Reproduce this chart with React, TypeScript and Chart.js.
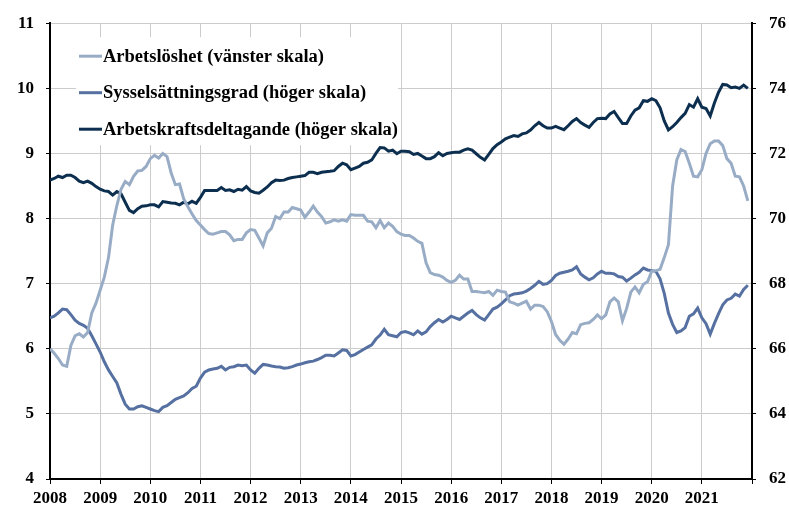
import React, { useEffect, useRef } from "react";
import { Chart, registerables } from "chart.js";

Chart.register(...registerables);

const startYear = 2008;
const endYear = 2022;

const seriesNames = [
  "Arbetslöshet (vänster skala)",
  "Sysselsättningsgrad (höger skala)",
  "Arbetskraftsdeltagande (höger skala)",
];

// Monthly values, Jan 2008 – Dec 2021
const arbetsloshet = [
  6.0, 5.93, 5.85, 5.75, 5.73, 6.05, 6.2, 6.23, 6.18, 6.25, 6.55, 6.7,
  6.9, 7.1, 7.4, 7.9, 8.2, 8.45, 8.57, 8.52, 8.65, 8.73, 8.74, 8.8,
  8.92, 8.97, 8.93, 9.0, 8.95, 8.7, 8.52, 8.53, 8.3, 8.18, 8.07, 7.97,
  7.9, 7.83, 7.77, 7.76, 7.78, 7.8, 7.8, 7.75, 7.66, 7.68, 7.68, 7.78,
  7.83, 7.82, 7.7, 7.58, 7.78, 7.85, 8.03, 8.0, 8.1, 8.1, 8.17, 8.15,
  8.13, 8.02, 8.1, 8.19, 8.1, 8.03, 7.93, 7.95, 7.98, 7.96, 7.98, 7.96,
  8.06, 8.05, 8.05, 8.05, 7.96, 7.95, 7.86, 7.97, 7.86, 7.93, 7.88, 7.8,
  7.76, 7.74, 7.74, 7.7, 7.65, 7.62, 7.32, 7.17, 7.14, 7.13, 7.1, 7.05,
  7.02, 7.05, 7.13, 7.07, 7.07, 6.88, 6.88, 6.87, 6.86, 6.88, 6.82, 6.9,
  6.88, 6.87, 6.72, 6.7, 6.67, 6.7, 6.73, 6.61, 6.67, 6.67, 6.65, 6.57,
  6.42, 6.22, 6.13, 6.07, 6.15, 6.25, 6.23, 6.37, 6.39, 6.4, 6.45, 6.52,
  6.46, 6.52, 6.72, 6.78, 6.72, 6.43, 6.62, 6.87, 6.95, 6.86, 6.99, 7.03,
  7.19, 7.2, 7.22, 7.4, 7.6, 8.5, 8.9, 9.06, 9.03, 8.85, 8.65, 8.64,
  8.75, 9.0, 9.15, 9.19, 9.19, 9.12, 8.92, 8.85, 8.65, 8.64, 8.5, 8.27,
];

const sysselsattningsgrad = [
  66.95, 67.0, 67.1, 67.22, 67.2, 67.05, 66.88, 66.78, 66.72, 66.63, 66.4, 66.15,
  65.9, 65.6, 65.35, 65.15, 64.95, 64.6, 64.3, 64.15, 64.15, 64.22, 64.25, 64.2,
  64.15, 64.1, 64.07, 64.2, 64.25, 64.35, 64.45, 64.5, 64.55, 64.65, 64.78, 64.85,
  65.1, 65.28, 65.35, 65.38, 65.4, 65.46, 65.35, 65.43, 65.45, 65.5, 65.48, 65.5,
  65.35, 65.25, 65.4, 65.52, 65.5, 65.47, 65.45, 65.44, 65.4, 65.42, 65.45, 65.5,
  65.53, 65.57, 65.6, 65.62, 65.67, 65.73, 65.8, 65.8, 65.78, 65.87, 65.97, 65.95,
  65.78, 65.82, 65.9, 65.98, 66.05, 66.12, 66.3, 66.42, 66.6, 66.43, 66.4, 66.37,
  66.5, 66.53, 66.49, 66.43, 66.55, 66.45, 66.52, 66.68, 66.8, 66.9, 66.82, 66.9,
  67.0, 66.95, 66.9, 67.0, 67.1, 67.18, 67.05, 66.95, 66.88, 67.05, 67.22, 67.28,
  67.38, 67.5, 67.63, 67.68, 67.7, 67.72, 67.77, 67.85, 67.95, 68.07, 67.98, 68.0,
  68.1, 68.25, 68.32, 68.35, 68.38, 68.42, 68.52, 68.3, 68.2, 68.12, 68.18, 68.3,
  68.38, 68.32, 68.32, 68.3, 68.22, 68.2, 68.08, 68.17, 68.27, 68.35, 68.48, 68.42,
  68.4, 68.38, 68.15, 67.7, 67.1, 66.75, 66.5, 66.55, 66.65, 67.0, 67.07, 67.25,
  66.95, 66.77, 66.45, 66.78, 67.08, 67.35, 67.5, 67.55, 67.68, 67.62, 67.82, 67.95,
];

const arbetskraftsdeltagande = [
  71.18, 71.23, 71.3, 71.26, 71.33, 71.33, 71.26, 71.15, 71.1, 71.15, 71.08, 70.98,
  70.9, 70.85, 70.83, 70.72, 70.83, 70.76, 70.5, 70.25, 70.18, 70.3, 70.38, 70.39,
  70.42, 70.42, 70.36, 70.52, 70.5, 70.48, 70.47, 70.42, 70.5, 70.45, 70.53, 70.47,
  70.65, 70.86, 70.86, 70.86, 70.86, 70.95, 70.86, 70.88, 70.83, 70.9, 70.87, 70.98,
  70.85, 70.8, 70.78, 70.87, 70.97, 71.1, 71.18, 71.17, 71.18, 71.23, 71.26, 71.28,
  71.3, 71.32, 71.42, 71.42, 71.38, 71.42, 71.44, 71.45, 71.47, 71.6, 71.7, 71.65,
  71.5, 71.55, 71.6, 71.7, 71.73, 71.8, 72.0, 72.18, 72.17, 72.07, 72.1, 71.99,
  72.07, 72.07, 72.05, 71.97, 72.0, 71.92, 71.84, 71.84, 71.9, 72.02, 71.93, 72.0,
  72.02, 72.04, 72.04, 72.1, 72.14, 72.1, 71.99, 71.88, 71.8, 71.97, 72.15, 72.27,
  72.35, 72.45, 72.5, 72.55, 72.52, 72.6, 72.63, 72.72, 72.85, 72.95, 72.85, 72.78,
  72.78, 72.83, 72.78, 72.73, 72.85, 72.98, 73.07, 72.95, 72.87, 72.8, 72.95, 73.07,
  73.08, 73.07, 73.21, 73.29, 73.1, 72.92, 72.92, 73.15, 73.33, 73.4, 73.62, 73.6,
  73.68, 73.62, 73.4, 73.0, 72.72, 72.82, 72.95, 73.1, 73.23, 73.5, 73.42, 73.68,
  73.42, 73.38, 73.15, 73.55, 73.88, 74.12, 74.1, 74.02, 74.04, 74.0, 74.1, 74.0,
];

const leftTicks = { min: 4, max: 11, step: 1 };
const rightTicks = { min: 62, max: 76, step: 2 };

const colors = ["#98acc6", "#5671a1", "#0c2f50"];

const FONT = "'Liberation Serif', 'Times New Roman', serif";

const toPoints = (arr: number[]) => arr.map((v, i) => ({ x: i, y: v }));

const legendPlugin = {
  id: "boxLegend",
  beforeDatasetsDraw(chart: any) {
    const { ctx, chartArea } = chart;
    const left = chartArea.left + 26;
    const top = chartArea.top + 14;
    ctx.save();
    ctx.fillStyle = "#ffffff";
    ctx.fillRect(left, top, 322, 108);
    ctx.font = `bold 18.5px ${FONT}`;
    ctx.textBaseline = "middle";
    ctx.textAlign = "left";
    seriesNames.forEach((name, i) => {
      const y = top + 19 + i * 36.5;
      ctx.strokeStyle = colors[i];
      ctx.lineWidth = 3;
      ctx.beginPath();
      ctx.moveTo(left + 3, y);
      ctx.lineTo(left + 26, y);
      ctx.stroke();
      ctx.fillStyle = "#000";
      ctx.fillText(name, left + 27, y + 1);
    });
    ctx.restore();
  },
};

export default function App() {
  const ref = useRef<HTMLCanvasElement | null>(null);

  useEffect(() => {
    if (!ref.current) return;
    const tickFont = { family: FONT, size: 17, weight: "bold" as const };
    const chart = new Chart(ref.current, {
      type: "line",
      data: {
        datasets: [
          {
            label: seriesNames[0],
            data: toPoints(arbetsloshet),
            yAxisID: "y",
            borderColor: colors[0],
            borderWidth: 3,
            pointRadius: 0,
            tension: 0,
          },
          {
            label: seriesNames[1],
            data: toPoints(sysselsattningsgrad),
            yAxisID: "y1",
            borderColor: colors[1],
            borderWidth: 3,
            pointRadius: 0,
            tension: 0,
          },
          {
            label: seriesNames[2],
            data: toPoints(arbetskraftsdeltagande),
            yAxisID: "y1",
            borderColor: colors[2],
            borderWidth: 3,
            pointRadius: 0,
            tension: 0,
          },
        ],
      },
      options: {
        responsive: false,
        animation: false,
        layout: { padding: { top: 14, left: 0, right: 0, bottom: 0 } },
        plugins: { legend: { display: false }, tooltip: { enabled: false } },
        scales: {
          x: {
            type: "linear",
            min: 0,
            max: (endYear - startYear) * 12,
            afterFit: (s: any) => {
              s.height = 29;
            },
            afterBuildTicks: (s: any) => {
              const t = [];
              for (let v = 0; v <= (endYear - startYear) * 12; v += 12) t.push({ value: v });
              s.ticks = t;
            },
            ticks: {
              autoSkip: false,
              maxRotation: 0,
              color: "#000",
              font: tickFont,
              padding: 4,
              callback: (v: any) => (v < (endYear - startYear) * 12 ? String(startYear + v / 12) : ""),
            },
            grid: { color: "#cccccc", lineWidth: 1, tickColor: "#000", tickLength: 5 },
            border: { color: "#000", width: 2 },
          },
          y: {
            position: "left",
            min: leftTicks.min,
            max: leftTicks.max,
            afterFit: (s: any) => {
              s.width = 50;
            },
            ticks: { stepSize: leftTicks.step, color: "#000", font: tickFont, padding: 12 },
            grid: { color: "#cccccc", lineWidth: 1, tickColor: "#000", tickLength: 4 },
            border: { color: "#000", width: 2 },
          },
          y1: {
            position: "right",
            min: rightTicks.min,
            max: rightTicks.max,
            afterFit: (s: any) => {
              s.width = 37;
            },
            ticks: { stepSize: rightTicks.step, color: "#000", font: tickFont, padding: 13 },
            grid: { drawOnChartArea: false, tickColor: "#000", tickLength: 4 },
            border: { color: "#000", width: 2 },
          },
        },
      },
      plugins: [legendPlugin],
    });
    return () => chart.destroy();
  }, []);

  return (
    <div style={{ position: "fixed", left: 0, top: 0, width: 789, height: 508, background: "#fff" }}>
      <canvas ref={ref} width={789} height={508} style={{ width: 789, height: 508 }} />
    </div>
  );
}
